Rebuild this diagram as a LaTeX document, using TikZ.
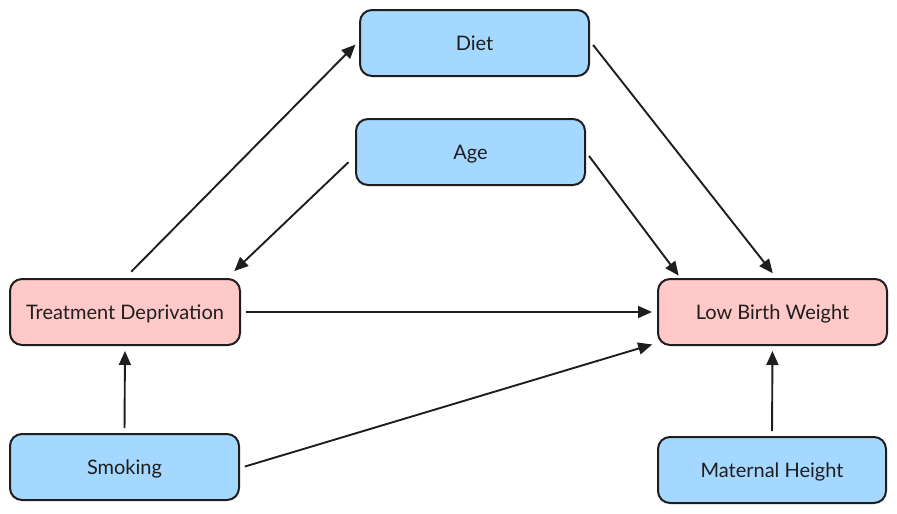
\documentclass[tikz,border=0pt]{standalone}
\usepackage{fontspec}
\setmainfont{Lato}
\usetikzlibrary{arrows.meta}
\definecolor{boxblue}{HTML}{A5D8FF}
\definecolor{boxpink}{HTML}{FFC9C9}
\definecolor{ink}{HTML}{1E1E1E}
\begin{document}
\begin{tikzpicture}[x=1pt,y=-1pt,
  box/.style={draw=ink, line width=2pt, rounded corners=12pt, minimum width=229pt, minimum height=66pt, inner sep=0pt, text height=14pt, text depth=0pt, text=ink, font=\fontsize{20}{24}\selectfont},
  bluebox/.style={box, fill=boxblue},
  pinkbox/.style={box, fill=boxpink},
  conn/.style={draw=ink, line width=1.9pt, -{Triangle[length=14pt,width=12pt]}, shorten >=5pt, shorten <=5pt}]
\useasboundingbox (0,0) rectangle (897,514);
\node[bluebox] (diet) at (474.5,43) {Diet};
\node[bluebox] (age) at (470.5,152) {Age};
\node[pinkbox, minimum width=230pt] (td) at (125,312) {Treatment Deprivation};
\node[pinkbox] (lbw) at (772.5,312) {Low Birth Weight};
\node[bluebox] (smoke) at (124.5,467) {Smoking};
\node[bluebox, minimum width=228pt] (mh) at (772,470) {Maternal Height};
\draw[conn, shorten <=9pt] (td.north) -- ([yshift=2pt]diet.west);
\draw[conn, shorten >=6pt] ([yshift=2pt]diet.east) -- ([xshift=4pt]lbw.north);
\draw[conn, shorten <=9pt, shorten >=10pt] ([yshift=-4pt]age.west) -- ([xshift=-14pt]td.north east);
\draw[conn, shorten >=3pt] (age.east) -- ([xshift=-92pt]lbw.north);
\draw[conn] (td.east) -- (lbw.west);
\draw[conn] ([yshift=-1pt]smoke.east) -- ([yshift=3pt]lbw.south west);
\draw[conn] (smoke.north) -- (td.south);
\draw[conn] (mh.north) -- (lbw.south);
\end{tikzpicture}
\end{document}
